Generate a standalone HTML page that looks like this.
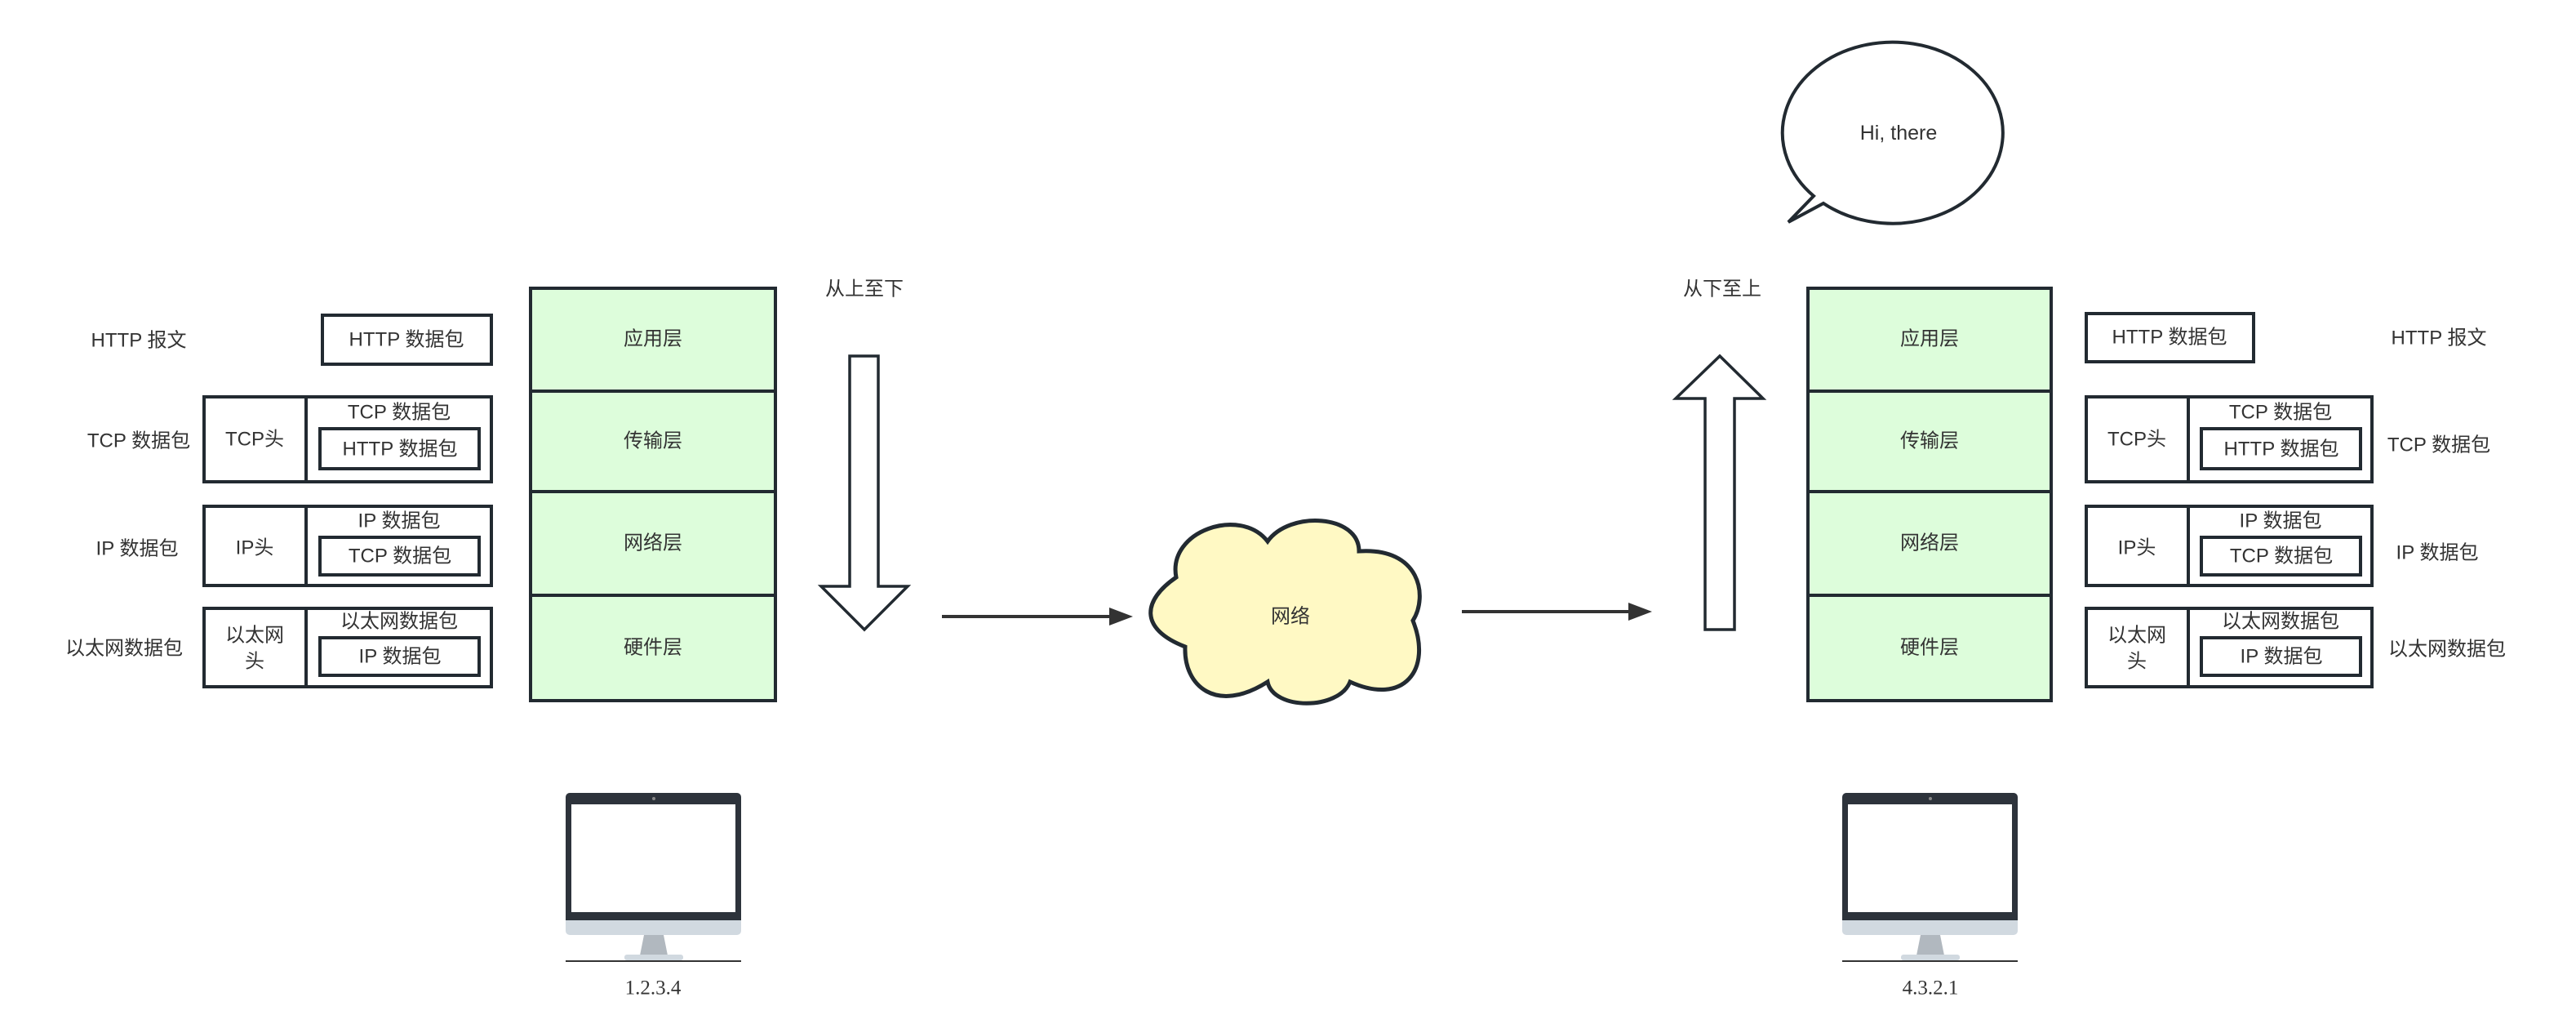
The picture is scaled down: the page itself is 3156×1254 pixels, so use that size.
<!DOCTYPE html>
<html><head><meta charset="utf-8"><style>
html,body{margin:0;padding:0;background:#fff;width:3156px;height:1254px;overflow:hidden}
svg text{font-family:"Liberation Sans","Noto Sans CJK SC",sans-serif;font-size:24px;fill:#333;text-anchor:middle;dominant-baseline:central}
</style></head><body>
<svg width="3156" height="1254" viewBox="0 0 3156 1254" xmlns="http://www.w3.org/2000/svg">
<g stroke="#222a31" stroke-width="4" fill="none">
<rect x="650" y="353" width="300" height="505" fill="#ddfddb"/>
<line x1="650" y1="479" x2="950" y2="479"/><line x1="650" y1="602" x2="950" y2="602"/><line x1="650" y1="729" x2="950" y2="729"/>
<rect x="2215" y="353" width="298" height="505" fill="#ddfddb"/>
<line x1="2215" y1="479" x2="2513" y2="479"/><line x1="2215" y1="602" x2="2513" y2="602"/><line x1="2215" y1="729" x2="2513" y2="729"/>
<rect x="395" y="386" width="207" height="60"/>
<rect x="250" y="486" width="352" height="104"/><line x1="375" y1="486" x2="375" y2="590"/><rect x="392" y="525" width="195" height="49"/>
<rect x="250" y="620" width="352" height="97"/><line x1="375" y1="620" x2="375" y2="717"/><rect x="392" y="658" width="195" height="46"/>
<rect x="250" y="745" width="352" height="96"/><line x1="375" y1="745" x2="375" y2="841"/><rect x="392" y="781" width="195" height="46"/>
<rect x="2556" y="384" width="205" height="59"/>
<rect x="2556" y="486" width="350" height="104"/><line x1="2681" y1="486" x2="2681" y2="590"/><rect x="2697" y="525" width="195" height="49"/>
<rect x="2556" y="620" width="350" height="97"/><line x1="2681" y1="620" x2="2681" y2="717"/><rect x="2697" y="658" width="195" height="46"/>
<rect x="2556" y="745" width="350" height="96"/><line x1="2681" y1="745" x2="2681" y2="841"/><rect x="2697" y="781" width="195" height="46"/>
<path d="M1041,436 H1076 V718 H1112 L1059,771 L1006,718 H1041 Z" fill="#fff" stroke-width="3.5"/>
<path d="M2089,771 H2125 V488 H2160 L2107,436 L2053,488 H2089 Z" fill="#fff" stroke-width="3.5"/>
<path d="M1441,707 C1430,650 1520,620 1553,663 C1580,625 1665,630 1665,675 C1740,670 1750,730 1731,760 C1755,820 1720,865 1654,835 C1640,870 1560,870 1553,835 C1490,875 1450,840 1452,792 C1395,770 1400,735 1441,707 Z" fill="#fff9c4" stroke-width="5"/>
<path d="M2222,240 A135,111 0 1 1 2234,249 L2191,272 Z" fill="#fff" stroke-width="4"/>
</g>
<g stroke="#333" stroke-width="4"><line x1="1154" y1="755" x2="1370" y2="755"/><line x1="1791" y1="749" x2="2005" y2="749"/></g>
<path d="M1388,755 L1359,744 L1359,766 Z" fill="#333"/>
<path d="M2024,749 L1995,738 L1995,760 Z" fill="#333"/>
<g id="mon">
<rect x="693" y="971" width="215" height="174" rx="5" fill="#d1d9e0"/>
<path d="M698,971 H903 A5,5 0 0 1 908,976 V1127 H693 V976 A5,5 0 0 1 698,971 Z" fill="#2d333b"/>
<rect x="700" y="985" width="201" height="132" fill="#fff"/>
<circle cx="801" cy="978" r="2" fill="#888"/>
<path d="M789,1145 H813 L818,1170 H784 Z" fill="#b1b8bf"/>
<rect x="765" y="1169" width="72" height="7" rx="3" fill="#d1d9e0"/>
<rect x="693" y="1176" width="215" height="2" fill="#333"/>
</g>
<use href="#mon" transform="translate(1564,0)"/>
<text x="800" y="1210" style="font-family:'Liberation Serif',serif;font-size:25px">1.2.3.4</text>
<text x="2365" y="1210" style="font-family:'Liberation Serif',serif;font-size:25px">4.3.2.1</text>
<text x="800" y="415">应用层</text><text x="800" y="540">传输层</text><text x="800" y="665">网络层</text><text x="800" y="793">硬件层</text>
<text x="2364" y="415">应用层</text><text x="2364" y="540">传输层</text><text x="2364" y="665">网络层</text><text x="2364" y="793">硬件层</text>
<text x="1059" y="354">从上至下</text><text x="2110" y="354">从下至上</text>
<text x="1581" y="755">网络</text>
<text x="2326" y="163" style="font-size:25px">Hi, there</text>
<text x="498" y="416">HTTP 数据包</text>
<text x="312" y="538">TCP头</text><text x="489" y="505">TCP 数据包</text><text x="490" y="550">HTTP 数据包</text>
<text x="312" y="671">IP头</text><text x="489" y="638">IP 数据包</text><text x="490" y="681">TCP 数据包</text>
<text x="312" y="778">以太网</text><text x="312" y="810">头</text><text x="489" y="761">以太网数据包</text><text x="490" y="804">IP 数据包</text>
<text x="170" y="417">HTTP 报文</text><text x="170" y="540">TCP 数据包</text><text x="168" y="672">IP 数据包</text><text x="152" y="794">以太网数据包</text>
<text x="2658" y="413">HTTP 数据包</text>
<text x="2618" y="538">TCP头</text><text x="2794" y="505">TCP 数据包</text><text x="2795" y="550">HTTP 数据包</text>
<text x="2618" y="671">IP头</text><text x="2794" y="638">IP 数据包</text><text x="2795" y="681">TCP 数据包</text>
<text x="2618" y="778">以太网</text><text x="2618" y="810">头</text><text x="2794" y="761">以太网数据包</text><text x="2795" y="804">IP 数据包</text>
<text x="2988" y="414">HTTP 报文</text><text x="2988" y="545">TCP 数据包</text><text x="2986" y="677">IP 数据包</text><text x="2998" y="795">以太网数据包</text>
</svg>
</body></html>
